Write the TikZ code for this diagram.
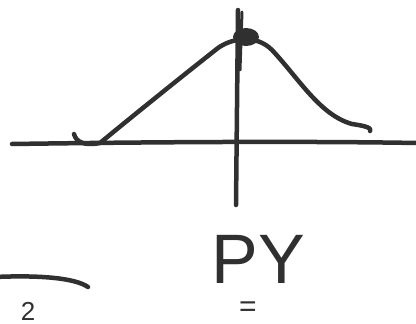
\documentclass[tikz,border=0pt]{standalone}
\usepackage{fontspec}
\setmainfont{Liberation Sans}
\usepackage{tikz}
\definecolor{ink}{HTML}{303030}

\begin{document}
\begin{tikzpicture}[x=1pt,y=-1pt,pen/.style={draw=ink,line width=4.5pt,line cap=round,line join=round},label/.style={text=ink,inner sep=0pt,anchor=base}]
\useasboundingbox (0,0) rectangle (416,324);
\begin{scope}
\clip (0,0) rectangle (416,324);
% axes
\draw[pen] (12,144) .. controls (150,142) and (300,141) .. (418,143);
\draw[pen] (238,10) -- (236,205);
\draw[pen,line width=3pt] (242,12) -- (240,70);
% bell curve
\draw[pen] (74,134) .. controls (76,142) and (84,146) .. (100,143)
  .. controls (140,110) and (190,70) .. (218,48)
  .. controls (232,38) and (256,34) .. (272,50)
  .. controls (300,80) and (320,115) .. (352,124)
  .. controls (366,126) and (372,128) .. (370,131);
\fill[ink] (246,37) ellipse (13 and 9);
% left stroke
\draw[pen] (-5,277) .. controls (40,275) and (75,278) .. (88,287);
% handwriting
\node[label,font=\fontsize{70}{74}\selectfont] (py) at (258,283) {PY};
\node[label,font=\fontsize{30}{34}\selectfont] (eq) at (248,316) {=};
\node[label,font=\fontsize{26}{30}\selectfont] (two) at (28,320) {2};
\end{scope}
\end{tikzpicture}
\end{document}
